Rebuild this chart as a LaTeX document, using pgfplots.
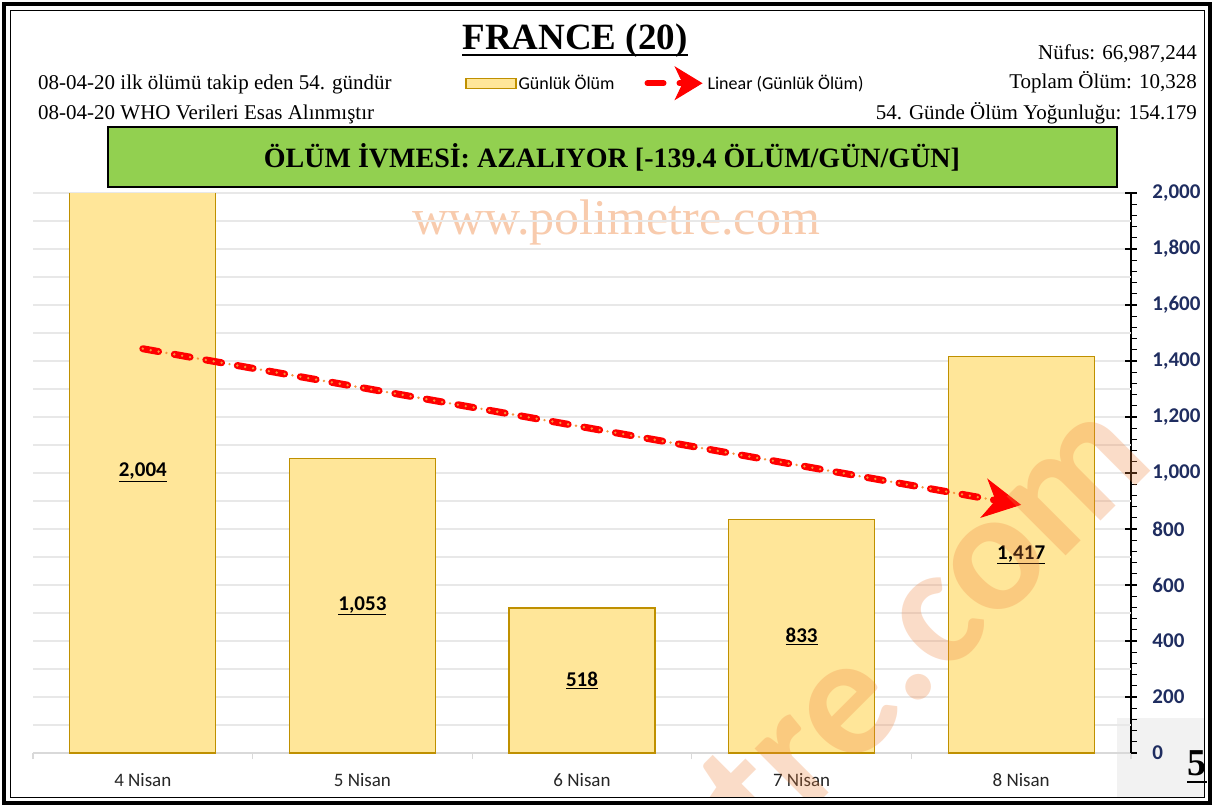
\documentclass[border=0pt]{standalone}
\usepackage{fontspec}
\setmainfont{Liberation Serif}
\newfontfamily\calibri{Carlito}
\usepackage{pgfplots}
\pgfplotsset{compat=1.18}
\usetikzlibrary{arrows.meta}
\definecolor{barfill}{RGB}{255,230,153}
\definecolor{baredge}{RGB}{191,144,0}
\definecolor{gridc}{RGB}{232,232,232}
\definecolor{navy}{RGB}{31,45,96}
\definecolor{greenbox}{RGB}{146,208,80}
\definecolor{wm}{RGB}{248,203,173}
\definecolor{wm2}{RGB}{240,130,60}
\definecolor{dotc}{RGB}{245,150,60}
\definecolor{grayax}{RGB}{217,217,217}
\definecolor{boxgray}{RGB}{242,242,242}
\begin{document}
\begin{tikzpicture}[x=1pt,y=1pt]
\useasboundingbox (0,0) rectangle (1214,807);
\fill[white] (0,0) rectangle (1214,807);
\fill[boxgray] (1117,10) rectangle (1204,89);
% header
\node[anchor=base, inner sep=0, font=\bfseries\fontsize{37}{40}\selectfont] (T) at (575,757) {FRANCE (20)};
\draw[line width=2.5pt] ([yshift=-5pt]T.base west) -- ([yshift=-5pt]T.base east);
\node[anchor=base west, inner sep=0, font=\fontsize{21}{24}\selectfont] at (38,717) {08-04-20 ilk ölümü takip eden 54. gündür};
\node[anchor=base west, inner sep=0, font=\fontsize{21}{24}\selectfont] at (38,687) {08-04-20 WHO Verileri Esas Alınmıştır};
\node[anchor=base east, inner sep=0, font=\fontsize{21}{24}\selectfont] at (1197,747) {Nüfus: 66,987,244};
\node[anchor=base east, inner sep=0, font=\fontsize{21}{24}\selectfont] at (1197,718) {Toplam Ölüm: 10,328};
\node[anchor=base east, inner sep=0, font=\fontsize{21}{24}\selectfont] at (1197,687) {54. Günde Ölüm Yoğunluğu: 154.179};
\draw[fill=greenbox, line width=1.5pt] (108,620) rectangle (1117,680);
\node[anchor=base, inner sep=0, font=\bfseries\fontsize{28}{30}\selectfont] at (612,639) {ÖLÜM İVMESİ: AZALIYOR [-139.4 ÖLÜM/GÜN/GÜN]};
% top watermark
\node[anchor=base, inner sep=0, text=wm, font=\fontsize{50}{55}\selectfont] at (616,572) {www.polimetre.com};
\begin{axis}[
  at={(33pt,54pt)}, anchor=south west, scale only axis,
  width=1098pt, height=560pt,
  xmin=-0.5, xmax=4.5, ymin=0, ymax=2000,
  axis x line*=bottom, axis y line*=right,
  xtick={0,1,2,3,4},
  xticklabels={4 Nisan,5 Nisan,6 Nisan,7 Nisan,8 Nisan},
  minor xtick={-0.5,0.5,1.5,2.5,3.5,4.5},
  ytick={0,200,...,2000},
  yticklabels={0,200,400,600,800,{1,000},{1,200},{1,400},{1,600},{1,800},{2,000}},
  minor ytick={40,80,...,1960},
  tick align=outside, major tick length=12pt, minor tick length=6pt,
  major x tick style={draw=none},
  minor x tick style={grayax, line width=1.2pt},
  major y tick style={black, line width=1.3pt, xshift=-6pt},
  minor y tick style={black, line width=1.3pt},
  extra y ticks={100,300,...,1900}, extra y tick labels={},
  extra y tick style={grid=major, major y tick style={draw=none}},
  ymajorgrids, grid style={gridc, line width=1.2pt},
  x axis line style={grayax, line width=1.2pt},
  y axis line style={black, line width=1.3pt},
  xticklabel style={font=\calibri\fontsize{19}{22}\selectfont, text=black!85, yshift=-5pt},
  yticklabel style={font=\calibri\bfseries\fontsize{21}{24}\selectfont, text=navy, anchor=west, xshift=6pt},
  legend style={at={(axis description cs:0.576,1.196)}, anchor=center, draw=none, fill=none,
    font=\calibri\fontsize{18}{20}\selectfont, legend columns=2,
    /tikz/every even column/.append style={column sep=28pt}},
  legend cell align=left,
  clip=true,
]
\addplot[ybar, bar width=146pt, fill=barfill, draw=baredge, line width=1.2pt,
  legend image code/.code={\draw[fill=barfill, draw=baredge, line width=1.2pt] (0pt,-5pt) rectangle (50pt,5pt);}]
  coordinates {(0,2004) (1,1053) (2,518) (3,833) (4,1417)};
\addlegendentry{Günlük Ölüm}
\addplot[red, mark=none, line width=7pt, line cap=round, dash pattern=on 16pt off 16pt,
  -{Stealth[length=38pt,width=40pt,inset=12pt,line width=1pt]},
  legend image code/.code={\draw[red, line width=6pt, line cap=round, -{Stealth[length=28pt,width=34pt,inset=8pt,line width=1pt]}] (0pt,0pt) -- (55pt,0pt);}]
  coordinates {(0,1443.8) (4,886.2)};
\addlegendentry{Linear (Günlük Ölüm)}
\addplot[dotc, mark=none, forget plot, line width=2.6pt, line cap=round, dash pattern=on 0pt off 8pt, shorten >=30pt]
  coordinates {(0,1443.8) (4,886.2)};
\addplot[draw=none, mark=none, forget plot, nodes near coords, point meta=explicit symbolic,
  nodes near coords style={font=\calibri\bfseries\fontsize{21}{24}\selectfont, anchor=center, text=black}]
  coordinates {(0,1002)[{\underline{2,004}}] (1,526)[{\underline{1,053}}] (2,259)[{\underline{518}}] (3,416)[{\underline{833}}] (4,708)[{\underline{1,417}}]};
\end{axis}
% diagonal watermark
\begin{scope}
\clip (10,10) rectangle (1204,797);
\node[rotate=45, anchor=base east, inner sep=0, text=wm2, opacity=0.28,
  font=\calibri\bfseries\fontsize{172}{190}\selectfont] at (1158,343) {www.polimetre.com};
\end{scope}
\node[anchor=base, inner sep=0, font=\bfseries\fontsize{38}{40}\selectfont] (F) at (1197,32) {5};
\draw[line width=2.5pt] ([yshift=-7pt]F.base west) -- ([yshift=-7pt]F.base east);
% frame
\draw[line width=4pt] (4,4) rectangle (1210,803);
\draw[line width=0.8pt] (10,10) rectangle (1204,797);
\end{tikzpicture}
\end{document}
